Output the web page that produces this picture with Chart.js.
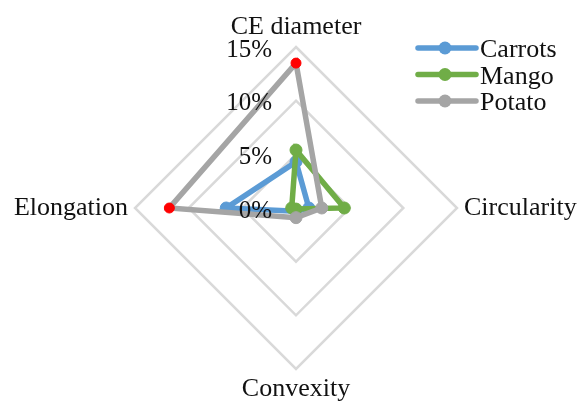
<!DOCTYPE html>
<html>
<head>
<meta charset="utf-8">
<script src="https://cdn.jsdelivr.net/npm/chart.js@4/dist/chart.umd.min.js"></script>
<style>
  body { margin: 0; background: #fff; }
  #wrap { width: 582px; height: 403px; }
</style>
</head>
<body>
<div id="wrap"><canvas id="container"></canvas></div>
<script>
const AXES = ["CE diameter", "Circularity", "Convexity", "Elongation"];

// values in percent, one per axis
const CARROTS = [4.3, 1.2, 0.3, 6.5];
const MANGO = [5.4, 4.5, 0.1, 0.4];
const POTATO = [13.5, 2.4, 0.9, 11.8];

const TICK_VALUES = [0, 5, 10, 15];
const TICK_LABELS = ["0%", "5%", "10%", "15%"];

const BLUE = "#5B9BD5";
const GREEN = "#70AD47";
const GRAY = "#A5A5A5";
const RED = "#FF0000";

const FONT = "Liberation Serif";
const TEXT = "#111";

// potato points at CE diameter and Elongation are marked red
const isMarked = (i) => i === 0 || i === 3;
const potatoColors = POTATO.map((v, i) => (isMarked(i) ? RED : GRAY));
const potatoRadius = POTATO.map((v, i) => (isMarked(i) ? 5 : 6));

const series = (label, values, color, order) => ({
  label: label,
  data: values,
  borderColor: color,
  backgroundColor: color,
  fill: false,
  borderWidth: 5.5,
  pointRadius: 6,
  pointBorderWidth: 1,
  pointBackgroundColor: color,
  pointBorderColor: color,
  order: order,
});

const datasets = [
  series("Carrots", CARROTS, BLUE, 2),
  series("Mango", MANGO, GREEN, 1),
  series("Potato", POTATO, GRAY, 0),
];
datasets[2].pointBackgroundColor = potatoColors;
datasets[2].pointBorderColor = potatoColors;
datasets[2].pointRadius = potatoRadius;

// tick labels sit to the left of the first axis
const tickLabels = {
  id: "tickLabels",
  afterDatasetsDraw(chart) {
    const scale = chart.scales.r;
    const ctx = chart.ctx;
    ctx.save();
    ctx.font = "25px " + FONT;
    ctx.fillStyle = TEXT;
    ctx.textAlign = "right";
    ctx.textBaseline = "alphabetic";
    TICK_VALUES.forEach((v, i) => {
      const d = scale.getDistanceFromCenterForValue(v);
      ctx.fillText(TICK_LABELS[i], scale.xCenter - 24, scale.yCenter - d + 9.5);
    });
    ctx.restore();
  },
};

// legend in the top right corner, line with marker then name
const sideLegend = {
  id: "sideLegend",
  afterDraw(chart) {
    const ctx = chart.ctx;
    const rows = [48, 74.5, 101];
    ctx.save();
    ctx.font = "26px " + FONT;
    ctx.textAlign = "left";
    ctx.textBaseline = "alphabetic";
    chart.data.datasets.forEach((ds, i) => {
      const y = rows[i];
      ctx.strokeStyle = ds.borderColor;
      ctx.lineWidth = 5.5;
      ctx.lineCap = "round";
      ctx.beginPath();
      ctx.moveTo(418, y);
      ctx.lineTo(476, y);
      ctx.stroke();
      ctx.fillStyle = ds.borderColor;
      ctx.beginPath();
      ctx.arc(445, y, 6.5, 0, Math.PI * 2);
      ctx.fill();
      ctx.fillStyle = TEXT;
      ctx.fillText(ds.label, 480, y + 9);
    });
    ctx.restore();
  },
};

new Chart(document.getElementById("container"), {
  type: "radar",
  data: { labels: AXES, datasets: datasets },
  options: {
    responsive: true,
    maintainAspectRatio: false,
    animation: false,
    layout: { padding: { left: 10, right: 0, top: 14, bottom: 0 } },
    elements: { line: { tension: 0 } },
    plugins: {
      legend: { display: false },
      tooltip: { enabled: false },
    },
    scales: {
      r: {
        min: 0,
        max: 15,
        ticks: { stepSize: 5, display: false },
        angleLines: { display: false },
        grid: { color: "#D9D9D9", lineWidth: 2.5, circular: false },
        pointLabels: {
          padding: 7,
          color: TEXT,
          font: { family: FONT, size: 26, lineHeight: 1 },
        },
      },
    },
  },
  plugins: [tickLabels, sideLegend],
});
</script>
</body>
</html>
